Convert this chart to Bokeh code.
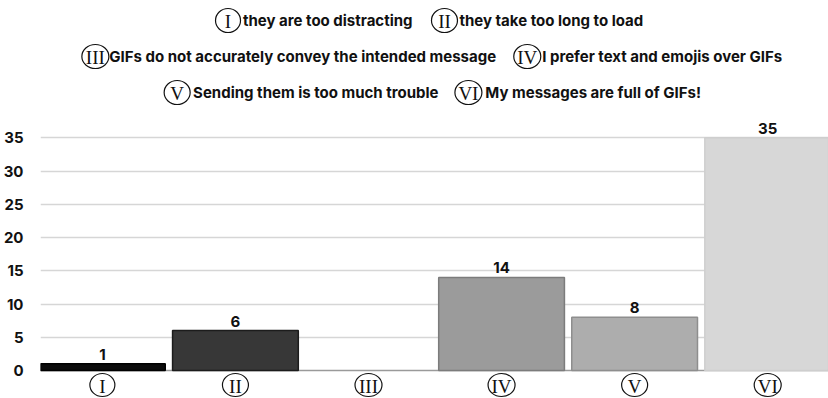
from bokeh.plotting import figure
from bokeh.layouts import column
from bokeh.models import ColumnDataSource, Range1d, FixedTicker, Span
from bokeh.core.properties import value
from bokeh.embed import file_html
from bokeh.resources import INLINE

# --- data -------------------------------------------------------------
numerals = ["I", "II", "III", "IV", "V", "VI"]
reasons = [
    "they are too distracting",
    "they take too long to load",
    "GIFs do not accurately convey the intended message",
    "I prefer text and emojis over GIFs",
    "Sending them is too much trouble",
    "My messages are full of GIFs!",
]
counts = [1, 6, 0, 14, 8, 35]
bar_fill = ["#0b0b0b", "#373737", "#6a6a6a", "#9b9b9b", "#adadad", "#d7d7d7"]
bar_line = ["#000000", "#1c1c1c", "#505050", "#7c7c7c", "#8e8e8e", "#cecece"]
y_ticks = [0, 5, 10, 15, 20, 25, 30, 35]

SANS = "Inter"
SERIF = "Liberation Serif"
W = 828
LEFT = 38            # width of the value-axis panel

# --- legend strip (pixel-like coordinates, y grows downward) ----------
LEG_H = 112
leg = figure(width=W, height=LEG_H, x_range=Range1d(LEFT, W), y_range=Range1d(LEG_H, 0),
             output_backend="svg", toolbar_location=None, min_border=0,
             min_border_left=LEFT)
leg.axis.visible = False
leg.grid.visible = False
leg.outline_line_color = None

# circle centre x and row y for each key, then text start x
key_x = [226, 443, 93, 526, 175, 467]
key_y = [20, 20, 56, 56, 92, 92]
key_w = [25, 26, 27, 27, 26, 27]
text_x = [241, 458, 107, 541, 191, 484]

lsrc = ColumnDataSource(dict(kx=key_x, ky=key_y, kw=key_w, tx=text_x,
                             num=numerals, lab=reasons))
leg.ellipse(x="kx", y="ky", width="kw", height=24, width_units="screen",
            height_units="screen", source=lsrc, fill_color="white",
            line_color="#111111", line_width=1.2)
leg.text(x="kx", y="ky", text="num", source=lsrc, text_font=value(SERIF),
         text_font_size="19px", text_align="center", text_baseline="middle",
         text_color="#111111", y_offset=1)
leg.text(x="tx", y="ky", text="lab", source=lsrc, text_font=value(SANS),
         text_font_size="15px", text_align="left", text_baseline="middle",
         text_color="#111111", text_font_style="bold")

# --- bar chart ----------------------------------------------------------
PX = 6.65            # pixels per unit on the value axis
TOP, ZERO, BOTTOM = 112, 370, 398   # canvas rows of frame top, zero line, frame bottom
y_end = (ZERO - TOP) / PX
y_start = -(BOTTOM - ZERO) / PX
badge_y = -(384.5 - ZERO) / PX

xs = list(range(1, len(numerals) + 1))
p = figure(width=W, height=BOTTOM - TOP, x_range=Range1d(0.535, 6.457),
           y_range=Range1d(y_start, y_end), output_backend="svg",
           toolbar_location=None, min_border_left=LEFT, min_border_right=0,
           min_border_top=0, min_border_bottom=0)
p.xaxis.visible = False
p.xgrid.visible = False
p.outline_line_color = None

p.yaxis.ticker = FixedTicker(ticks=y_ticks)
p.yaxis.axis_line_color = None
p.yaxis.major_tick_line_color = None
p.yaxis.minor_tick_line_color = None
p.yaxis.major_label_standoff = 11
p.yaxis.major_label_text_font = SANS
p.yaxis.major_label_text_font_size = "15px"
p.yaxis.major_label_text_font_style = "bold"
p.yaxis.major_label_text_color = "#111111"

p.ygrid.ticker = FixedTicker(ticks=[t for t in y_ticks if t > 0])
p.ygrid.grid_line_color = "#d6d6d6"
p.ygrid.grid_line_width = 1.5
p.add_layout(Span(location=0, dimension="width", line_color="#9a9a9a",
                  line_width=1.5, level="underlay"))

keep = [i for i, c in enumerate(counts) if c > 0]
bsrc = ColumnDataSource(dict(
    x=[xs[i] for i in keep],
    top=[counts[i] for i in keep],
    fill=[bar_fill[i] for i in keep],
    line=[bar_line[i] for i in keep],
    lab=[str(counts[i]) for i in keep],
))
p.vbar(x="x", top="top", bottom=0, width=0.945, source=bsrc,
       fill_color="fill", line_color="line", line_width=1.5)
p.text(x="x", y="top", text="lab", source=bsrc, text_font=value(SANS),
       text_font_size="15px", text_font_style="bold", text_align="center",
       text_baseline="bottom", y_offset=-4, text_color="#111111")

# circled numerals under each category
asrc = ColumnDataSource(dict(x=xs, y=[badge_y] * len(xs), num=numerals,
                             w=key_w))
p.ellipse(x="x", y="y", width="w", height=23, width_units="screen",
          height_units="screen", source=asrc, fill_color="white",
          line_color="#111111", line_width=1.2)
p.text(x="x", y="y", text="num", source=asrc, text_font=value(SERIF),
       text_font_size="19px", text_align="center", text_baseline="middle",
       text_color="#111111", y_offset=1)

layout = column(leg, p, spacing=0)
open("out.html", "w").write(file_html(layout, INLINE))
